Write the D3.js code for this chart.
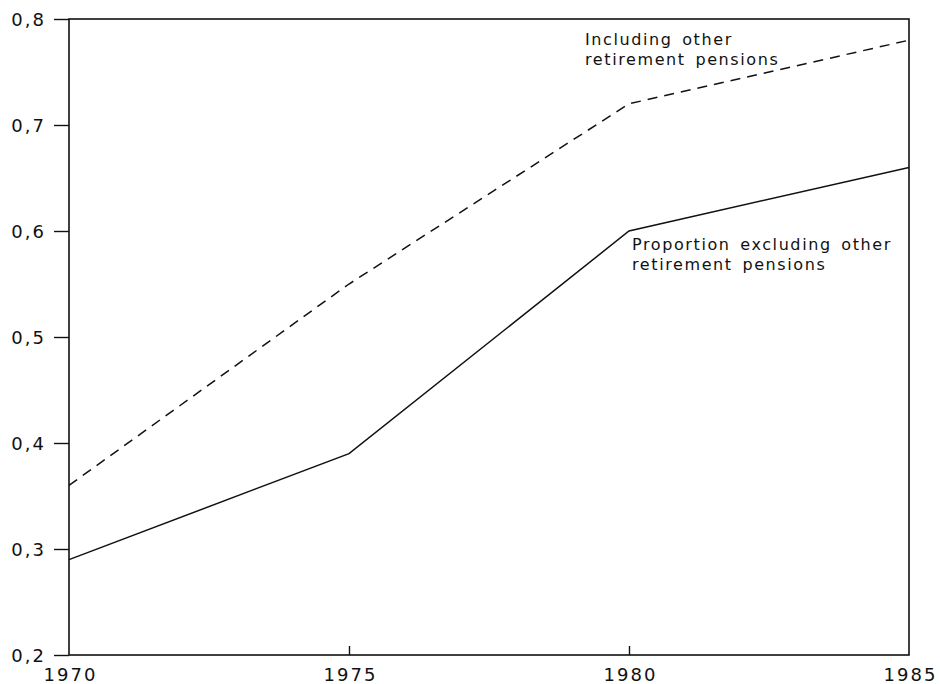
<!DOCTYPE html>
<html>
<head>
<meta charset="utf-8">
<script src="https://d3js.org/d3.v7.min.js"></script>
<style>
  body { margin: 0; background: #fff; }
  text { font-family: "DejaVu Sans", sans-serif; fill: #111; }
</style>
</head>
<body>
<div id="container"></div>
<script>
var years = [1970, 1975, 1980, 1985];
var including = [0.36, 0.55, 0.72, 0.78];
var excluding = [0.29, 0.39, 0.60, 0.66];
var yTicks = [0.2, 0.3, 0.4, 0.5, 0.6, 0.7, 0.8];
var xTicks = [1970, 1975, 1980, 1985];

var width = 940, height = 684;
var margin = {left: 69, right: 31, top: 19, bottom: 29};

var svg = d3.select("#container").append("svg")
    .attr("width", width)
    .attr("height", height);

var x = d3.scaleLinear().domain([1970, 1985]).range([margin.left, width - margin.right]);
var y = d3.scaleLinear().domain([0.2, 0.8]).range([height - margin.bottom, margin.top]);

// frame
svg.append("rect")
    .attr("x", x(1970)).attr("y", y(0.8))
    .attr("width", x(1985) - x(1970)).attr("height", y(0.2) - y(0.8))
    .style("fill", "none").style("stroke", "#111").style("stroke-width", 1.6);

var fmt = function(d) { return d3.format(".1f")(d).replace(".", ","); };

var yAxis = svg.append("g")
    .attr("transform", "translate(" + x(1970) + ",0)")
    .call(d3.axisLeft(y).tickValues(yTicks).tickFormat(fmt).tickSize(15).tickPadding(8));
yAxis.select(".domain").remove();
yAxis.selectAll("line").style("stroke", "#111").style("stroke-width", 1.4);
yAxis.selectAll("text").style("font-size", "18px").style("letter-spacing", "2px")
    .attr("dy", "0.36em");

var xAxis = svg.append("g")
    .attr("transform", "translate(0," + y(0.2) + ")")
    .call(d3.axisTop(x).tickValues(xTicks).tickFormat(d3.format("d")).tickSize(9));
xAxis.select(".domain").remove();
xAxis.selectAll("line").style("stroke", "#111").style("stroke-width", 1.4);
xAxis.selectAll("text")
    .attr("y", 26).attr("dy", 0).attr("dx", 1)
    .style("font-size", "18px").style("letter-spacing", "2px");
xAxis.selectAll(".tick").filter(function(d) { return d === 1970 || d === 1985; })
    .select("line").remove();

var line = d3.line()
    .x(function(d, i) { return x(years[i]); })
    .y(function(d) { return y(d); });

svg.append("path").datum(including)
    .attr("d", line)
    .style("fill", "none").style("stroke", "#111").style("stroke-width", 1.5)
    .style("stroke-dasharray", "10,7");

svg.append("path").datum(excluding)
    .attr("d", line)
    .style("fill", "none").style("stroke", "#111").style("stroke-width", 1.5);

var labels = [
  {lines: ["Including other", "retirement pensions"], x: 585, y: 45},
  {lines: ["Proportion excluding other", "retirement pensions"], x: 632, y: 250}
];
labels.forEach(function(l) {
  var t = svg.append("text")
      .attr("x", l.x).attr("y", l.y)
      .style("font-size", "16px").style("letter-spacing", "1.6px").style("word-spacing", "3px");
  l.lines.forEach(function(s, i) {
    t.append("tspan").attr("x", l.x).attr("dy", i === 0 ? 0 : 20).text(s);
  });
});
</script>
</body>
</html>
